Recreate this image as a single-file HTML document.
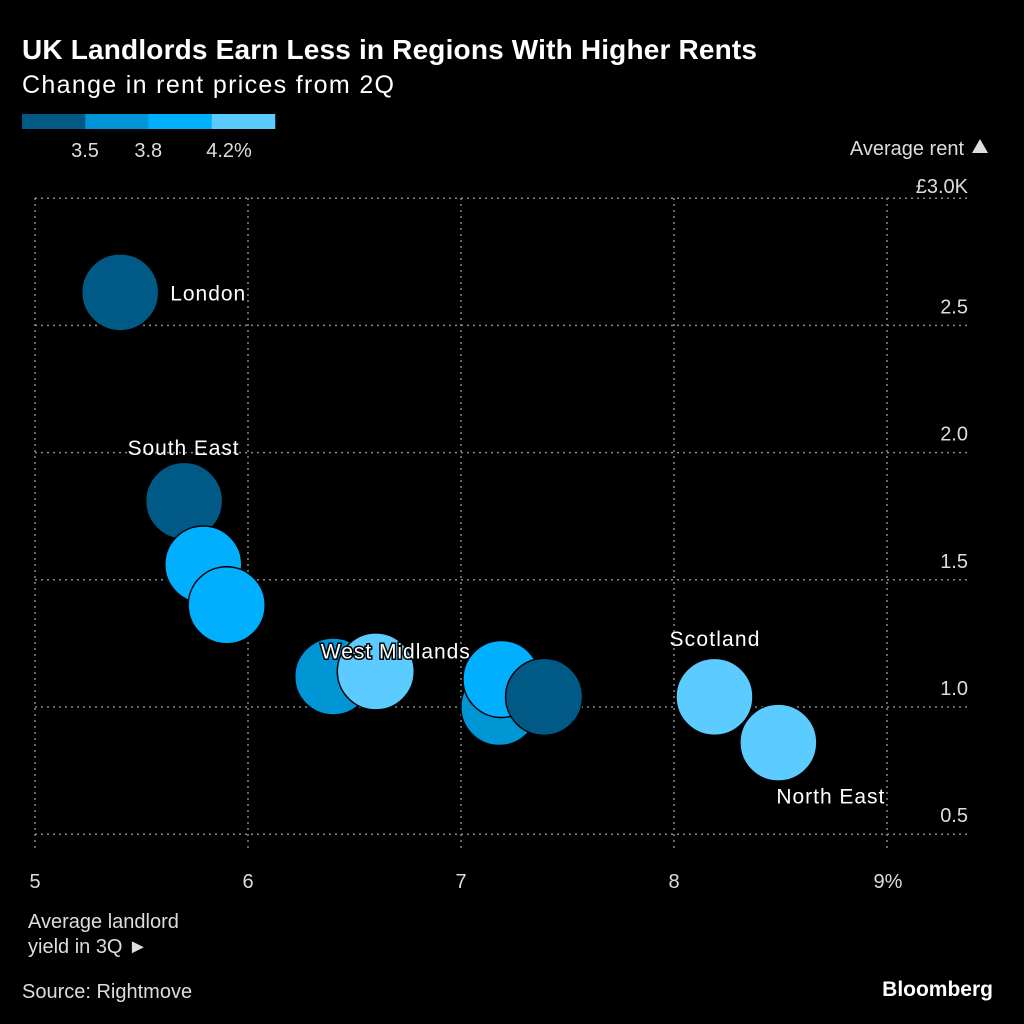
<!DOCTYPE html>
<html><head><meta charset="utf-8">
<style>
body{margin:0;background:#000;width:1024px;height:1024px;overflow:hidden;font-family:"Liberation Sans",sans-serif;color:#fff}
svg{position:absolute;left:0;top:0}
</style></head>
<body>
<svg id="chart" width="1024" height="1024">
<text x="22" y="59" font-size="28" font-weight="bold" fill="#fff" textLength="735">UK Landlords Earn Less in Regions With Higher Rents</text>
<text x="22" y="93" font-size="25" fill="#fff" textLength="372">Change in rent prices from 2Q</text>
<g id="legend"></g>
<text x="964" y="155" font-size="20" fill="#ddd" text-anchor="end">Average rent</text>
<path d="M972,153 L980,139 L988,153 Z" fill="#ddd"/>
<g id="grid"></g>
<g id="bubbles"></g>
<g id="labels"></g>
<text x="28" y="928" font-size="20" fill="#ddd">Average landlord</text>
<text x="28" y="953" font-size="20" fill="#ddd">yield in 3Q ►</text>
<text x="22" y="998" font-size="20" fill="#ddd">Source: Rightmove</text>
<text x="993" y="996" font-size="21" font-weight="bold" fill="#fff" text-anchor="end">Bloomberg</text>
</svg>
<script>
const regions=["London","South East","East","South West","East Midlands","West Midlands","Yorkshire","North West","Wales","Scotland","North East"];
const yieldVals=[5.40,5.70,5.79,5.90,6.40,6.60,7.18,7.19,7.39,8.19,8.49];
const rentVals=[2.63,1.81,1.56,1.40,1.12,1.14,1.00,1.11,1.04,1.04,0.86];
const changeVals=[3.3,3.3,4.0,4.0,3.6,4.4,3.6,4.0,3.3,4.4,4.4];
const shownLabels=["London","South East","West Midlands","Scotland","North East"];
const xTicks=[5,6,7,8,9];
const xTickLabels=["5","6","7","8","9%"];
const yTicks=[0.5,1.0,1.5,2.0,2.5,3.0];
const yTickLabels=["0.5","1.0","1.5","2.0","2.5","£3.0K"];
const legendBreaks=["3.5","3.8","4.2%"];
const colors=["#005a85","#0095d5","#00b0ff","#5ccbff"];
const thresholds=[3.5,3.8,4.2];
const NS="http://www.w3.org/2000/svg";
const X=v=>35+(v-5)*213;
const Y=v=>707-(v-1)*254.4;
function mk(tag,attrs,parent){const e=document.createElementNS(NS,tag);for(const k in attrs)e.setAttribute(k,attrs[k]);parent.appendChild(e);return e;}
function col(c){let i=0;while(i<thresholds.length&&c>=thresholds[i])i++;return colors[i];}
const lg=document.getElementById('legend');
colors.forEach((c,i)=>{const r=mk('rect',{x:22+i*63.25,y:114,width:63.5,height:15,fill:c},lg);

});
legendBreaks.forEach((t,i)=>{const e=mk('text',{x:85+i*63.25,y:157,'font-size':20,fill:'#ddd','text-anchor':'middle'},lg);
if(i==2)e.setAttribute('x',229);
e.textContent=t;

});
const g=document.getElementById('grid');
yTicks.forEach((v,i)=>{const l=mk('line',{x1:35,x2:968,y1:Y(v),y2:Y(v),stroke:'#888','stroke-width':1.5,'stroke-dasharray':'2,4'},g);


const t=mk('text',{x:968,y:Y(v)-12,'font-size':20,fill:'#ddd','text-anchor':'end'},g);
if(i==5)t.setAttribute('y',Y(v)-5);
t.textContent=yTickLabels[i];

});
xTicks.forEach((v,i)=>{const l=mk('line',{x1:X(v),x2:X(v),y1:198,y2:850,stroke:'#888','stroke-width':1.5,'stroke-dasharray':'2,4'},g);


const t=mk('text',{x:X(v)+(i==4?1:0),y:888,'font-size':20,fill:'#ddd','text-anchor':'middle'},g);
t.textContent=xTickLabels[i];

});
const b=document.getElementById('bubbles');
regions.forEach((r,i)=>{const c=mk('circle',{cx:X(yieldVals[i]),cy:Y(rentVals[i]),r:38.5,fill:col(changeVals[i]),stroke:'#000','stroke-width':1.5},b);

});
const lb=document.getElementById('labels');
const off={"London":[50,8,'start',75],"South East":[-1,-46,'middle',111],"West Midlands":[-55,-13,'start',149],"Scotland":[0,-51,'middle',90],"North East":[52,61,'middle',108]};
shownLabels.forEach(n=>{const i=regions.indexOf(n);const o=off[n];
const t=mk('text',{x:X(yieldVals[i])+o[0],y:Y(rentVals[i])+o[1],'font-size':21,fill:'#fff','text-anchor':o[2],textLength:o[3],stroke:'#000','stroke-width':n=="West Midlands"?3:0,'paint-order':'stroke'},lb);
t.textContent=n;

});
</script>
</body></html>
